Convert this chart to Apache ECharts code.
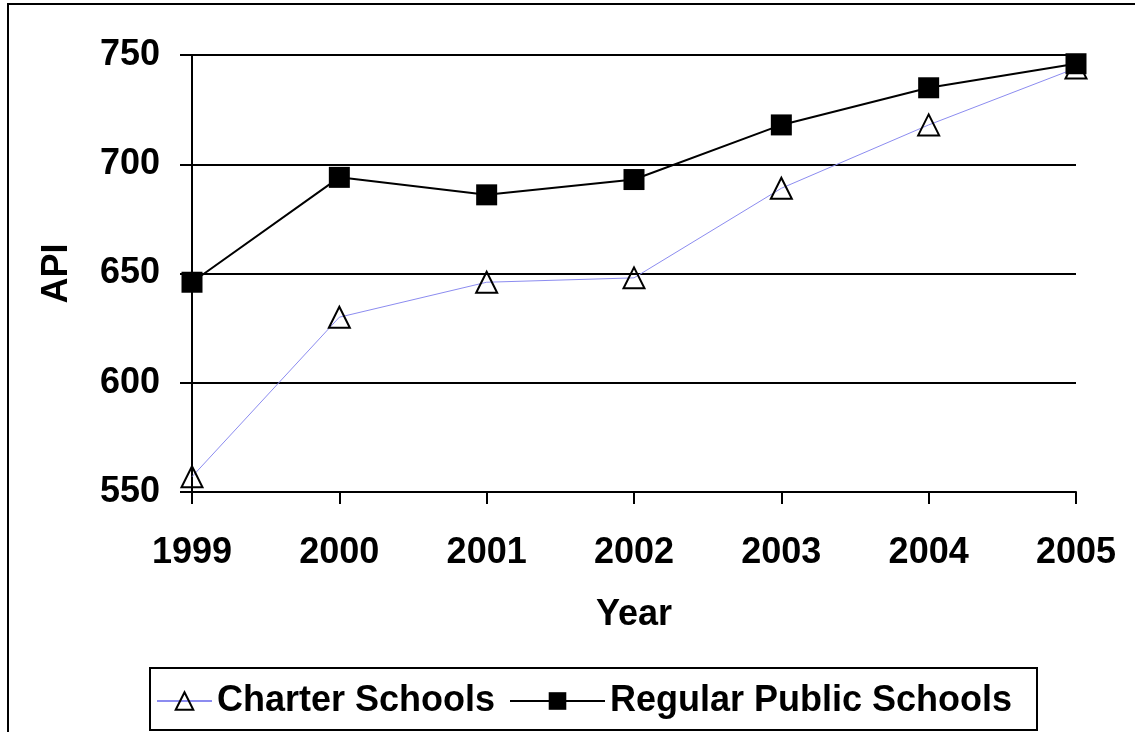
<!DOCTYPE html>
<html>
<head>
<meta charset="utf-8">
<script src="https://cdn.jsdelivr.net/npm/echarts@6/dist/echarts.min.js"></script>
<style>
  html, body { margin: 0; padding: 0; background: #fff; }
  #chart { width: 1135px; height: 732px; }
</style>
</head>
<body>
<div id="chart"></div>
<script>
// data
const years = ['1999', '2000', '2001', '2002', '2003', '2004', '2005']
const charterSchools = [557, 630, 646, 648, 689, 718, 744]
const regularPublicSchools = [646, 694, 686, 693, 718, 735, 746]
const seriesNames = ['Charter Schools', 'Regular Public Schools']

const font = 'Liberation Sans, Arial, sans-serif'
const bigText = { fontFamily: font, fontSize: 36, fontWeight: 'bold', color: '#000' }

const myChart = echarts.init(document.getElementById('chart'))

// one legend per series, the two keys are not the same length in the picture
const legendBase = {
    top: 683,
    padding: 0,
    itemHeight: 22,
    textStyle: bigText
}

const option = {
    backgroundColor: '#fff',
    animation: false,
    textStyle: { fontFamily: font, color: '#000' },
    graphic: [
        // outer frame, only top and left show in the picture
        {
            type: 'rect',
            shape: { x: 8, y: 4, width: 1140, height: 760 },
            style: { fill: 'none', stroke: '#000', lineWidth: 2 },
            silent: true
        },
        // legend box
        {
            type: 'rect',
            shape: { x: 150, y: 668, width: 887, height: 62 },
            style: { fill: 'none', stroke: '#000', lineWidth: 2 },
            silent: true
        }
    ],
    grid: { left: 192, right: 59, top: 55, bottom: 240 },
    legend: [
        Object.assign({}, legendBase, { data: [seriesNames[0]], left: 156, itemWidth: 55 }),
        Object.assign({}, legendBase, { data: [seriesNames[1]], left: 509, itemWidth: 95 })
    ],
    xAxis: {
        type: 'category',
        data: years,
        boundaryGap: false,
        name: 'Year',
        nameLocation: 'middle',
        nameGap: 105,
        nameTextStyle: bigText,
        axisLine: { lineStyle: { color: '#000', width: 2 } },
        axisTick: { show: true, length: 12, lineStyle: { color: '#000', width: 2 } },
        axisLabel: Object.assign({ margin: 43 }, bigText)
    },
    yAxis: {
        type: 'value',
        min: 550,
        max: 750,
        interval: 50,
        name: 'API',
        nameLocation: 'middle',
        nameGap: 117,
        nameTextStyle: bigText,
        axisLine: { show: true, lineStyle: { color: '#000', width: 2 } },
        axisTick: { show: true, length: 12, lineStyle: { color: '#000', width: 2 } },
        axisLabel: Object.assign({ margin: 32 }, bigText),
        splitLine: { show: true, lineStyle: { color: '#000', width: 2 } }
    },
    series: [
        {
            name: seriesNames[0],
            type: 'line',
            data: charterSchools,
            symbol: 'triangle',
            symbolSize: 21,
            lineStyle: { color: '#8c8cf0', width: 1 },
            itemStyle: { color: 'rgba(255,255,255,0)', borderColor: '#000', borderWidth: 2 }
        },
        {
            name: seriesNames[1],
            type: 'line',
            data: regularPublicSchools,
            symbol: 'rect',
            symbolSize: 21,
            lineStyle: { color: '#000', width: 2 },
            itemStyle: { color: '#000', borderColor: '#000', borderWidth: 0 }
        }
    ]
}

option && myChart.setOption(option)
</script>
</body>
</html>
